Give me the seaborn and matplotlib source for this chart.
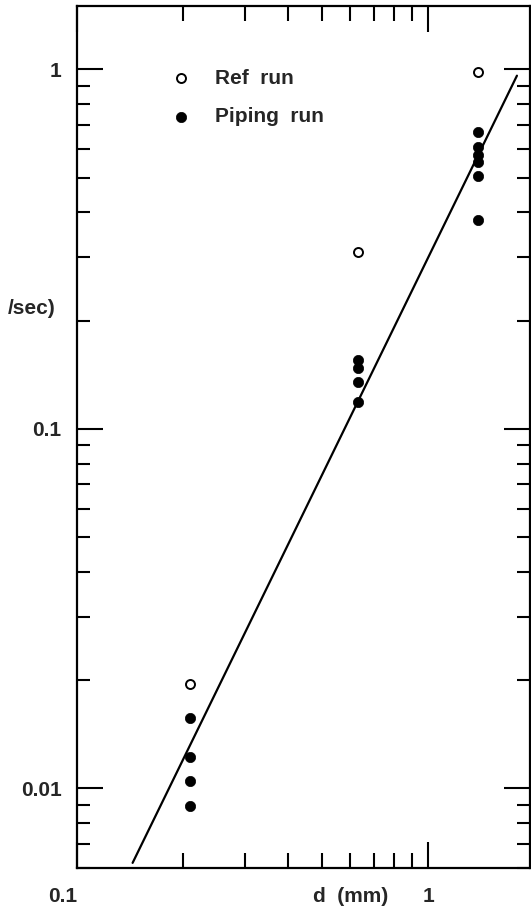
import numpy as np
import pandas as pd
import matplotlib
matplotlib.use("Agg")
import matplotlib.pyplot as plt
import matplotlib.ticker as mticker
import seaborn as sns

# ---- data ----
ref_d = [0.21, 0.63, 1.39]
ref_v = [0.0195, 0.31, 0.98]

pipe_d = [0.21, 0.21, 0.21, 0.21,
          0.63, 0.63, 0.63, 0.63,
          1.39, 1.39, 1.39, 1.39, 1.39, 1.39]
pipe_v = [0.0157, 0.0122, 0.0105, 0.0089,
          0.155, 0.148, 0.135, 0.119,
          0.67, 0.608, 0.577, 0.551, 0.505, 0.381]

fit_d = [0.144, 1.79]
fit_v = [0.0062, 0.96]

x_ticks = [0.1, 1]
x_tick_labels = ["0.1", "1"]
y_ticks = [0.01, 0.1, 1]
y_tick_labels = ["0.01", "0.1", "1"]

sns.set_style("ticks")
plt.rcParams['font.family'] = ['Liberation Sans', 'DejaVu Sans']
plt.rcParams['font.weight'] = 'bold'

W, H = 531, 919
fig = plt.figure(figsize=(W / 100, H / 100), dpi=100)
ax = fig.add_axes([77 / W, (H - 868) / H, (530 - 77) / W, (868 - 6) / H])

df_ref = pd.DataFrame({"d": ref_d, "v": ref_v})
df_pipe = pd.DataFrame({"d": pipe_d, "v": pipe_v})
df_fit = pd.DataFrame({"d": fit_d, "v": fit_v})

sns.lineplot(data=df_fit, x="d", y="v", ax=ax, color="black", linewidth=1.6,
             legend=False)
sns.scatterplot(data=df_ref, x="d", y="v", ax=ax, marker="o", s=42,
                facecolor="white", edgecolor="black", linewidth=1.4,
                label="Ref  run", zorder=3)
sns.scatterplot(data=df_pipe, x="d", y="v", ax=ax, marker="o", s=55,
                color="black", edgecolor="black", linewidth=0.5,
                label="Piping  run", zorder=3)

ax.set_xscale("log")
ax.set_yscale("log")
ax.set_xlim(0.1, 1.95)
ax.set_ylim(0.006, 1.5)

ax.xaxis.set_major_locator(mticker.FixedLocator(x_ticks))
ax.xaxis.set_major_formatter(mticker.FixedFormatter(x_tick_labels))
ax.yaxis.set_major_locator(mticker.FixedLocator(y_ticks))
ax.yaxis.set_major_formatter(mticker.FixedFormatter(y_tick_labels))
ax.xaxis.set_minor_locator(mticker.LogLocator(base=10, subs=np.arange(2, 10)))
ax.yaxis.set_minor_locator(mticker.LogLocator(base=10, subs=np.arange(2, 10)))
ax.xaxis.set_minor_formatter(mticker.NullFormatter())
ax.yaxis.set_minor_formatter(mticker.NullFormatter())

ax.tick_params(which="both", direction="in", top=True, right=True,
               width=1.5, color="black")
ax.tick_params(which="major", length=19)
ax.tick_params(which="minor", length=9.5)
ax.tick_params(axis="x", which="minor", length=11)
ax.tick_params(axis="y", which="major", pad=11, labelsize=15)
ax.tick_params(axis="x", which="major", pad=14, labelsize=15)
for lab in ax.get_xticklabels() + ax.get_yticklabels():
    lab.set_fontweight("bold")
ax.get_xticklabels()[0].set_horizontalalignment("right")

for sp in ax.spines.values():
    sp.set_linewidth(1.6)
    sp.set_color("black")

ax.set_xlabel("")
ax.set_ylabel("")
fig.text(351 / W, 1 - 897 / H, "d  (mm)", ha="center", va="center",
         fontsize=15, fontweight="bold")
fig.text(56 / W, 1 - 308 / H, "/sec)", ha="right", va="center",
         fontsize=15, fontweight="bold")

leg = ax.legend(loc="upper left", bbox_to_anchor=(0.166, 0.937), frameon=False,
                prop={"size": 15, "weight": "bold"}, handletextpad=0.6,
                labelspacing=0.95, borderaxespad=0)

fig.savefig("out.png", dpi=100)
